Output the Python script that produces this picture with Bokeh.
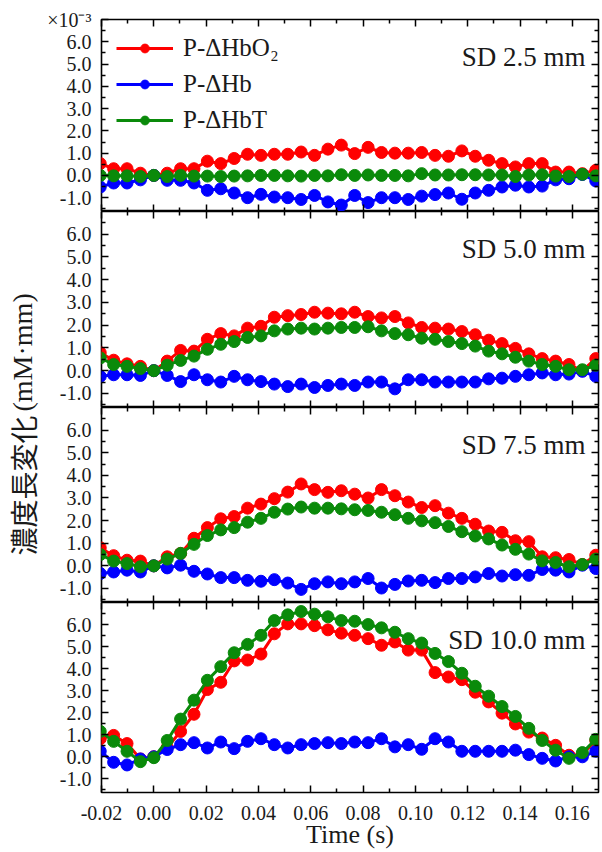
import math
from bokeh.plotting import figure
from bokeh.layouts import column, row
from bokeh.models import (Range1d, LinearAxis, FixedTicker, NumeralTickFormatter,
                          Label, CustomLabelingPolicy)
from bokeh.embed import file_html
from bokeh.resources import INLINE
from bokeh.core.properties import value

# ---------------- data ----------------
time_s = [-0.02048, -0.01536, -0.01024, -0.00512, 0.0, 0.00512, 0.01024, 0.01536,
          0.02048, 0.0256, 0.03072, 0.03584, 0.04096, 0.04608, 0.0512, 0.05632,
          0.06144, 0.06656, 0.07168, 0.0768, 0.08192, 0.08704, 0.09216, 0.09728,
          0.1024, 0.10752, 0.11264, 0.11776, 0.12288, 0.128, 0.13312, 0.13824,
          0.14336, 0.14848, 0.1536, 0.15872, 0.16384, 0.16896]

series_names = ["P-\u0394HbO\u2082", "P-\u0394Hb", "P-\u0394HbT"]
sd_labels = ["SD 2.5 mm", "SD 5.0 mm", "SD 7.5 mm", "SD 10.0 mm"]

hbo2_sd25 = [0.53, 0.30, 0.30, 0.10, 0.00, 0.10, 0.30, 0.30, 0.64, 0.53, 0.76, 0.95, 0.90, 0.95, 0.95, 1.05,
             0.90, 1.18, 1.36, 0.98, 1.26, 1.03, 1.00, 1.00, 1.03, 0.90, 0.86, 1.10, 0.86, 0.68, 0.53, 0.38,
             0.53, 0.53, 0.15, 0.15, 0.08, 0.23]
hb_sd25 = [-0.52, -0.34, -0.34, -0.20, 0.00, -0.22, -0.22, -0.34, -0.67, -0.60, -0.79, -1.00, -0.85, -0.97, -1.00, -1.08,
           -0.90, -1.19, -1.33, -0.90, -1.22, -1.00, -1.00, -1.08, -0.93, -0.86, -0.79, -1.07, -0.79, -0.67, -0.52, -0.44,
           -0.52, -0.48, -0.20, -0.15, 0.04, -0.25]
hbt_sd25 = [0.00, -0.02, -0.02, -0.05, 0.00, -0.05, 0.00, -0.03, -0.03, -0.05, -0.03, -0.02, 0.00, 0.00, -0.02, -0.03,
            0.00, -0.02, 0.03, 0.00, 0.02, 0.00, 0.00, -0.02, 0.08, 0.02, 0.02, 0.03, 0.03, 0.02, 0.02, -0.05,
            0.02, 0.03, -0.03, -0.05, 0.05, -0.02]

hbo2_sd50 = [0.79, 0.46, 0.30, 0.19, 0.00, 0.42, 0.89, 0.86, 1.38, 1.63, 1.53, 1.87, 1.95, 2.35, 2.42, 2.47,
             2.57, 2.53, 2.50, 2.57, 2.38, 2.32, 2.38, 2.10, 1.90, 1.87, 1.83, 1.72, 1.58, 1.34, 1.19, 0.98,
             0.74, 0.53, 0.42, 0.27, 0.00, 0.53]
hb_sd50 = [-0.25, -0.18, -0.18, -0.21, 0.00, -0.21, -0.48, -0.18, -0.40, -0.50, -0.25, -0.40, -0.48, -0.59, -0.70, -0.59,
           -0.74, -0.65, -0.59, -0.65, -0.50, -0.50, -0.80, -0.40, -0.40, -0.50, -0.50, -0.50, -0.50, -0.36, -0.33, -0.25,
           -0.18, -0.10, -0.18, -0.15, -0.03, -0.25]
hbt_sd50 = [0.56, 0.27, 0.19, 0.09, 0.00, 0.24, 0.45, 0.64, 0.94, 1.16, 1.28, 1.46, 1.53, 1.75, 1.83, 1.87,
            1.83, 1.87, 1.90, 1.90, 1.93, 1.75, 1.63, 1.58, 1.43, 1.38, 1.28, 1.19, 1.08, 0.86, 0.74, 0.59,
            0.42, 0.27, 0.19, 0.04, 0.04, 0.24]

hbo2_sd75 = [0.80, 0.45, 0.25, 0.21, 0.00, 0.40, 0.55, 1.22, 1.69, 2.08, 2.18, 2.55, 2.73, 2.97, 3.26, 3.62,
             3.37, 3.25, 3.32, 3.17, 3.00, 3.37, 3.10, 2.82, 2.58, 2.66, 2.33, 2.10, 1.84, 1.54, 1.48, 1.11,
             1.07, 0.40, 0.36, 0.28, 0.06, 0.47]
hb_sd75 = [-0.34, -0.27, -0.19, -0.27, 0.00, -0.09, 0.03, -0.24, -0.36, -0.52, -0.52, -0.64, -0.68, -0.61, -0.76, -1.04,
           -0.79, -0.71, -0.79, -0.71, -0.56, -0.98, -0.82, -0.67, -0.64, -0.74, -0.56, -0.56, -0.49, -0.34, -0.45, -0.39,
           -0.42, -0.16, -0.19, -0.27, 0.03, -0.12]
hbt_sd75 = [0.50, 0.21, 0.10, -0.04, 0.00, 0.30, 0.55, 0.95, 1.34, 1.59, 1.69, 1.93, 2.10, 2.37, 2.51, 2.60,
            2.55, 2.55, 2.52, 2.48, 2.45, 2.37, 2.26, 2.10, 1.99, 1.91, 1.74, 1.51, 1.32, 1.19, 0.92, 0.73,
            0.52, 0.22, 0.15, -0.04, 0.06, 0.30]

hbo2_sd100 = [0.82, 0.97, 0.60, -0.10, 0.00, 0.42, 1.15, 1.93, 3.05, 3.38, 4.35, 4.39, 4.66, 5.58, 6.03, 6.03,
              5.95, 5.76, 5.61, 5.51, 5.36, 5.06, 5.21, 4.84, 4.84, 3.82, 3.62, 3.50, 2.93, 2.49, 1.98, 1.49,
              1.12, 0.85, 0.52, 0.07, 0.10, 0.74]
hb_sd100 = [0.25, -0.25, -0.37, -0.10, 0.00, 0.33, 0.55, 0.64, 0.40, 0.67, 0.37, 0.70, 0.82, 0.55, 0.40, 0.55,
            0.60, 0.64, 0.60, 0.67, 0.64, 0.82, 0.45, 0.55, 0.34, 0.82, 0.67, 0.25, 0.25, 0.25, 0.25, 0.30,
            0.10, -0.07, -0.19, 0.00, 0.00, 0.25]
hbt_sd100 = [1.15, 0.70, 0.25, -0.22, -0.04, 0.74, 1.71, 2.57, 3.47, 4.09, 4.72, 5.10, 5.51, 6.18, 6.44, 6.59,
             6.47, 6.35, 6.18, 6.15, 6.00, 5.85, 5.65, 5.36, 5.16, 4.69, 4.32, 3.79, 3.20, 2.75, 2.28, 1.83,
             1.29, 0.74, 0.30, -0.07, 0.19, 0.79]

y_major_ticks = [-1, 0, 1, 2, 3, 4, 5, 6]
y_minor_ticks = [-1.5, -0.5, 0.5, 1.5, 2.5, 3.5, 4.5, 5.5, 6.5]
x_major_ticks = [-0.02, 0.0, 0.02, 0.04, 0.06, 0.08, 0.10, 0.12, 0.14, 0.16]
x_minor_ticks = [-0.01, 0.01, 0.03, 0.05, 0.07, 0.09, 0.11, 0.13, 0.15]

x_label = "Time (s)"
y_label_cjk = "濃度長変化"
y_label_unit = "(mM\u00b7mm)"
scale_tick = 7
scale_label = "\u00d710\u207b\u00b3"

# ---------------- style ----------------
SERIF = "Liberation Serif"
CJK = "Noto Sans CJK JP"
COLORS = ["#ff0000", "#0000ff", "#0a8a0a"]
X_RANGE = (-0.02, 0.17)
Y_RANGE = (-1.62, 7.0)

panel_data = [
    (hbo2_sd25, hb_sd25, hbt_sd25),
    (hbo2_sd50, hb_sd50, hbt_sd50),
    (hbo2_sd75, hb_sd75, hbt_sd75),
    (hbo2_sd100, hb_sd100, hbt_sd100),
]
heights = [211, 196, 195, 249]
tops = [19, 0, 0, 0]
bottoms = [0, 0, 0, 55]
TOTAL_H = sum(heights)

HIDE_JS = "for (const i of Array.from(indices)) { indices.unset(i) }\nreturn indices"


def style_axis(ax, ticker, fmt, show_labels, standoff=10):
    ax.ticker = ticker
    ax.formatter = fmt
    ax.axis_line_color = None
    ax.major_tick_in = 7
    ax.major_tick_out = 0
    ax.minor_tick_in = 4
    ax.minor_tick_out = 0
    ax.major_tick_line_width = 1.5
    ax.minor_tick_line_width = 1.5
    ax.major_tick_line_color = "black"
    ax.minor_tick_line_color = "black"
    ax.axis_label = None
    ax.major_label_text_font = SERIF
    ax.major_label_text_color = "#1a1a1a"
    if show_labels:
        ax.major_label_text_font_size = "20px"
        ax.major_label_standoff = standoff
    else:
        ax.major_label_text_font_size = "0px"
        ax.major_label_standoff = 0
        ax.major_label_policy = CustomLabelingPolicy(code=HIDE_JS)


figs = []
for i in range(4):
    p = figure(width=556, height=heights[i],
               x_range=Range1d(*X_RANGE), y_range=Range1d(*Y_RANGE),
               output_backend="svg", toolbar_location=None,
               min_border_left=44, min_border_right=2,
               min_border_top=tops[i], min_border_bottom=bottoms[i])
    p.grid.visible = False
    p.outline_line_color = "black"
    p.outline_line_width = 1.6
    p.background_fill_color = "white"
    p.border_fill_color = "white"

    left_ax = p.yaxis[0]
    bottom_ax = p.xaxis[0]

    if i == 0:
        yt = FixedTicker(ticks=y_major_ticks + [scale_tick], minor_ticks=y_minor_ticks)
    else:
        yt = FixedTicker(ticks=y_major_ticks, minor_ticks=y_minor_ticks)
    xt = FixedTicker(ticks=x_major_ticks, minor_ticks=x_minor_ticks)
    style_axis(left_ax, yt, NumeralTickFormatter(format="0.0"), True, 10)
    if i == 0:
        left_ax.major_label_overrides = {scale_tick: scale_label}
    style_axis(bottom_ax, xt, NumeralTickFormatter(format="0.00"), i == 3, 13)

    ra = LinearAxis()
    style_axis(ra, FixedTicker(ticks=y_major_ticks, minor_ticks=y_minor_ticks),
               NumeralTickFormatter(format="0.0"), False)
    p.add_layout(ra, "right")
    ta = LinearAxis()
    style_axis(ta, FixedTicker(ticks=x_major_ticks, minor_ticks=x_minor_ticks),
               NumeralTickFormatter(format="0.00"), False)
    p.add_layout(ta, "above")

    for name, ys, col in zip(series_names, panel_data[i], COLORS):
        if i == 0:
            p.line(time_s, ys, line_color=col, line_width=3, legend_label=name)
            p.scatter(time_s, ys, size=12, fill_color=col, line_color=col, legend_label=name)
        else:
            p.line(time_s, ys, line_color=col, line_width=3)
            p.scatter(time_s, ys, size=12, fill_color=col, line_color=col)

    p.add_layout(Label(x=X_RANGE[1], y=Y_RANGE[1], x_offset=-13, y_offset=-37,
                       text=sd_labels[i], text_align="right", text_baseline="middle",
                       text_font=SERIF, text_font_size="27px", text_color="#1a1a1a"))

    if i == 0:
        lg = p.legend[0]
        lg.location = "top_left"
        lg.margin = 0
        lg.padding = 15
        lg.spacing = 8
        lg.glyph_width = 57
        lg.glyph_height = 22
        lg.label_height = 22
        lg.label_standoff = 10
        lg.label_text_font = SERIF
        lg.label_text_font_size = "25px"
        lg.label_text_color = "#1a1a1a"
        lg.background_fill_alpha = 0
        lg.border_line_alpha = 0
    if i == 3:
        bottom_ax.axis_label = x_label
        bottom_ax.axis_label_text_font = SERIF
        bottom_ax.axis_label_text_font_size = "26px"
        bottom_ax.axis_label_text_font_style = "normal"
        bottom_ax.axis_label_text_color = "#1a1a1a"
        bottom_ax.axis_label_standoff = -3
    figs.append(p)

# left figure holding the vertical axis title
lf = figure(width=44, height=TOTAL_H, x_range=Range1d(0, 44), y_range=Range1d(0, TOTAL_H),
            output_backend="svg", toolbar_location=None, min_border=0)
lf.axis.visible = False
lf.grid.visible = False
lf.outline_line_color = None
lf.text(x=[22], y=[TOTAL_H - 555], text=[y_label_cjk], angle=math.pi / 2, text_align="left",
        text_baseline="middle", text_font=value(CJK), text_font_size="28px", text_color="#1a1a1a")
lf.text(x=[22], y=[TOTAL_H - 411], text=[y_label_unit], angle=math.pi / 2, text_align="left",
        text_baseline="middle", text_font=value(SERIF), text_font_size="28px", text_color="#1a1a1a")

layout = row(lf, column(*figs))
open("out.html", "w").write(file_html(layout, INLINE))
